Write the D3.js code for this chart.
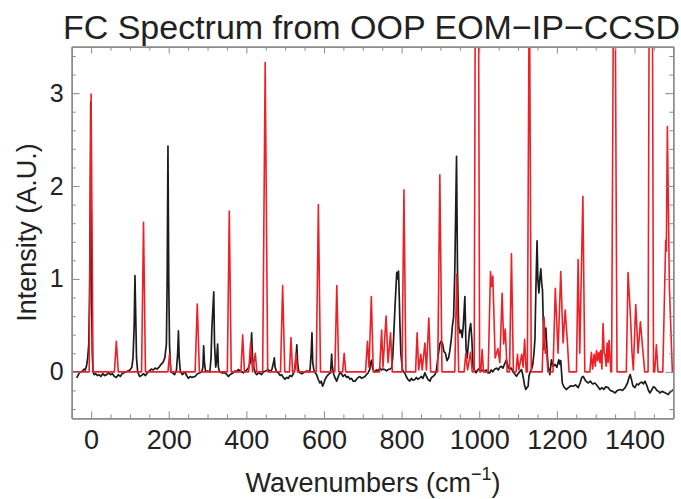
<!DOCTYPE html>
<html>
<head>
<meta charset="utf-8">
<script src="https://cdn.jsdelivr.net/npm/d3@7"></script>
<style>
    body { margin: 0; background: #ffffff; }
    svg { display: block; }
</style>
</head>
<body>
<script>
// -------------------------------------------------------------------------- //
//                                  DATA                                      //
// -------------------------------------------------------------------------- //

var titleText = "FC Spectrum from OOP EOM\u2212IP\u2212CCSD";
var xLabel = "Wavenumbers (cm";
var yLabel = "Intensity (A.U.)";

var xMajorTicks = [0, 200, 400, 600, 800, 1000, 1200, 1400];
var yMajorTicks = [0, 1, 2, 3];

// experimental spectrum (black), [wavenumber, intensity]
var exptSpectrum = [
    [-37,-0.065],[-33,-0.03],[-30,-0.01],[-26,0.0],[-22,0.01],[-18,0.03],[-15,0.02],[-12,0.06],
    [-9,0.14],[-6,0.3],[-4,0.8],[-2,2.0],[-1,2.9],[1,1.0],[3,0.2],[5,0.0],[8,-0.03],[12,-0.02],
    [16,-0.04],[20,-0.03],[25,-0.05],[30,-0.02],[35,-0.04],[40,-0.03],[45,-0.01],[50,-0.03],
    [55,-0.02],[60,-0.05],[65,-0.06],[70,-0.03],[75,-0.05],[80,-0.02],[85,-0.01],[90,0.0],
    [95,0.01],[100,0.02],[105,0.05],[108,0.15],[111,0.5],[113,1.035],[115,0.6],[117,0.15],
    [120,0.0],[125,-0.05],[130,-0.04],[135,-0.02],[140,-0.04],[145,-0.01],[150,0.01],[155,0.03],
    [160,0.02],[165,0.04],[170,0.03],[175,0.05],[180,0.08],[185,0.1],[190,0.15],[194,0.3],
    [196,1.0],[198,2.43],[200,1.0],[202,0.3],[205,0.0],[210,-0.01],[215,-0.03],[220,0.02],
    [223,0.2],[225,0.44],[227,0.15],[230,0.0],[235,-0.03],[242,0.0],[246,-0.04],[250.6,-0.07],
    [255,-0.05],[260,-0.06],[267.8,-0.05],[274,-0.02],[280.6,-0.01],[285,0.0],[288,0.05],
    [290,0.28],[292,0.1],[295,0.0],[300,0.01],[306,0.0],[309,0.15],[311,0.45],[314,0.7],
    [316,0.86],[318,0.3],[321,0.05],[323,0.1],[326,0.30],[328,0.05],[331,0.0],[337,-0.01],
    [345,-0.01],[350,-0.03],[353.6,-0.05],[358,-0.03],[362,-0.02],[366,-0.01],[371,0.01],
    [375,0.0],[379,0.025],[384,0.01],[388,0.0],[392,-0.01],[397,0.01],[401,0.02],[405,0.04],
    [410,0.1],[413.6,0.42],[416,0.15],[419.7,0.04],[423,-0.01],[426.6,-0.03],[432,-0.01],
    [439.5,-0.03],[444,0.0],[450,0.01],[456.6,0.025],[462,0.0],[466,0.03],[470,0.1],[472,0.15],
    [474,0.05],[478,0.0],[482,-0.01],[487,-0.04],[491,-0.03],[495,-0.06],[499.5,-0.08],
    [504,-0.06],[508,-0.07],[512,-0.04],[516.7,-0.05],[521,-0.02],[525,0.03],[528,0.15],
    [530,0.29],[532,0.1],[535,0.0],[538,-0.01],[543,-0.02],[547,-0.01],[551,0.0],[556,0.01],
    [560,0.0],[564,0.02],[567,0.2],[569,0.42],[571,0.1],[574,0.02],[577,-0.01],[581,-0.03],
    [585,-0.08],[589.6,-0.12],[593,-0.1],[596.5,-0.155],[600,-0.12],[603,-0.08],[606.8,-0.05],
    [611,-0.03],[614,-0.02],[617,-0.01],[618.5,0.1],[619.7,0.19],[621,0.08],[624,-0.01],
    [628,-0.06],[632.6,-0.1],[636,-0.06],[641,-0.01],[645,-0.02],[649,-0.05],[654,-0.03],
    [658,-0.06],[662,-0.05],[667,-0.08],[671,-0.07],[675,-0.1],[680,-0.1],[684,-0.08],
    [688,-0.06],[692.6,-0.05],[697,-0.07],[701,-0.06],[705.5,-0.05],[709,-0.03],[714,-0.01],
    [718,0.03],[720,0.1],[722.7,0.125],[725,0.04],[728,0.01],[731,0.0],[735,0.02],[739,0.01],
    [744,0.04],[748,0.02],[752,0.03],[757,0.025],[761,0.01],[765.5,0.025],[770,0.03],[774,0.04],
    [777,0.15],[780,0.42],[783,0.7],[786,0.95],[787.5,1.07],[789.5,1.0],[792,1.085],[794,0.8],
    [795.6,0.52],[798,0.2],[802,0.025],[805,0.0],[808,-0.01],[812,-0.05],[816,-0.08],[821,-0.1],
    [825,-0.07],[829,-0.09],[834,-0.083],[838,-0.06],[842,-0.08],[847,-0.065],[851,-0.05],
    [855,-0.07],[860,-0.01],[864,-0.05],[868,-0.08],[873,-0.1],[877,-0.06],[881,-0.05],
    [885.7,-0.03],[889,0.0],[892,0.1],[895,0.2],[898.5,0.3],[902,0.33],[905.5,0.3],[909,0.22],
    [913,0.2],[917,0.12],[921,0.15],[924,0.22],[928,0.35],[931,0.5],[934,0.59],[937,1.08],
    [941.5,2.32],[944,1.08],[947,0.49],[950,0.42],[953,0.45],[956,0.37],[959,0.5],[963,0.81],
    [966,0.25],[969,0.15],[972,0.3],[975,0.45],[978,0.52],[981,0.35],[984,0.05],[987,0.025],
    [991.7,-0.01],[996,0.02],[1001.5,0.04],[1006,0.01],[1010,0.02],[1014,0.0],[1018,0.02],
    [1022,-0.01],[1027,-0.01],[1031,0.02],[1035,0.0],[1040,0.03],[1044.6,0.04],[1049,0.02],
    [1053,0.05],[1057,0.06],[1061,0.04],[1065,0.08],[1070,0.13],[1074,0.06],[1078,0.03],
    [1083,0.04],[1087,0.0],[1091,-0.02],[1096,-0.047],[1100,-0.02],[1104,0.0],[1109,0.025],
    [1113,-0.05],[1117,-0.15],[1120,-0.19],[1123,-0.17],[1126,-0.155],[1128,-0.05],[1131,0.0],
    [1134.6,0.025],[1138,0.08],[1141,0.2],[1143.5,0.35],[1146,0.9],[1149,1.41],[1151,1.0],
    [1153.7,0.85],[1156,1.0],[1158.8,1.11],[1161,0.95],[1163,0.88],[1166.5,0.24],[1169,0.4],
    [1171.7,0.47],[1175,0.2],[1177.7,0.05],[1182,-0.03],[1186,0.13],[1190,0.06],[1195,0.08],
    [1200,0.05],[1205,0.13],[1208,0.08],[1210,0.12],[1214,-0.12],[1218,-0.16],[1224,-0.19],
    [1230,-0.17],[1236,-0.15],[1242,-0.155],[1248,-0.14],[1255,-0.17],[1260,-0.12],[1264,-0.06],
    [1268,-0.05],[1273,-0.09],[1277,-0.11],[1281,-0.12],[1286,-0.10],[1292,-0.13],[1298,-0.12],
    [1304,-0.15],[1311,-0.19],[1316,-0.17],[1321,-0.19],[1326,-0.16],[1332,-0.17],[1338,-0.2],
    [1344,-0.21],[1350,-0.227],[1356,-0.2],[1363,-0.19],[1369,-0.2],[1376,-0.17],[1382,-0.12],
    [1386,-0.06],[1389,-0.03],[1392,-0.08],[1396,-0.15],[1401,-0.17],[1406,-0.13],[1410,-0.14],
    [1414,-0.12],[1419,-0.11],[1423,-0.13],[1427,-0.10],[1432,-0.15],[1436,-0.2],[1440,-0.227],
    [1445,-0.19],[1449,-0.16],[1453,-0.17],[1458,-0.2],[1462,-0.21],[1466,-0.227],[1471,-0.21],
    [1476,-0.22],[1481,-0.23],[1487,-0.245],[1491,-0.22],[1495,-0.21],[1500,-0.19]
];

// computed FC spectrum (red), [wavenumber, intensity]
var calcSpectrum = [
    [-50,0],[-5,0],[0,2.99],[5,0],
    [60,0],[65,0.33],[70,0],
    [130,0],[135,1.61],[140,0],
    [198,0],[202,0.19],[206,0],
    [268,0],[273.5,0.73],[279,0],
    [351,0],[356,1.73],[361,0],
    [386,0],[390.5,0.4],[395,0],
    [406,0],[411,0.32],[416,0],[423,0.2],[427,0],
    [442,0],[448.5,3.33],[455,0],
    [488,0],[493.5,0.93],[499,0],
    [511,0],[515,0.37],[519,0],
    [524,0],[528,0.2],[532,0],
    [580,0],[585.5,1.8],[591,0],
    [628,0],[633,0.93],[638,0],
    [648,0],[652,0.2],[656,0],
    [707,0],[712,0.33],[716,0.05],[722,0.81],[727,0],
    [743,0],[748.5,0.45],[752,0.05],[760,0.6],[765,0.1],[771.5,0.42],[776,0],
    [801,0],[806,1.96],[811,0],
    [836,0],[840,0.42],[844,0.02],[849.5,0.19],[853,0.02],[860,0.31],[864,0.02],[870,0.58],[875,0],
    [893,0],[898.5,2.12],[904,0],
    [937,0],[942,1.05],[947,0],
    [961,0],[965.5,0.2],[970,0.02],[977.5,0.21],[982,0],
    [987,0],[994,10],[1001,0],
    [1004,0],[1007.5,0.24],[1011,0],
    [1023,0],[1029,1.08],[1032,0.92],[1035,1.03],[1041,0.15],[1048,0.25],[1053,0.1],
    [1059,0.845],[1063,0.3],[1067,0.46],[1072,0],
    [1078,0],[1083,1.27],[1088,0],
    [1095,0],[1098.5,0.19],[1102,0.02],[1109.5,0.19],[1113,0.05],[1117,0.35],[1121,0],
    [1124,0],[1129,4.5],[1134,0],
    [1162,0],[1167,0.59],[1170,0.2],[1173,0.25],[1177,0],
    [1190,0],[1196,0.9],[1203,0.2],[1210,1.08],[1216,0.31],[1221.5,0.665],[1227,0.33],[1231.5,0],
    [1250.5,0],[1254.7,1.21],[1259,0.2],[1267,1.89],[1272,0],
    [1285,0],[1289,0.21],[1292,0.03],[1296,0.19],[1299,0.06],[1302,0.23],[1305,0.12],[1308,0.21],
    [1311,0.1],[1313,0.23],[1316,0.03],[1319,0.52],[1322,0.2],[1324,0.19],[1327,0.06],
    [1329.5,0.31],[1332,0.1],[1334.5,0.34],[1339,0],
    [1341,0],[1348,6],[1355,0],
    [1379,0],[1383.4,1.07],[1389.5,0.61],[1393.7,0.2],[1397,0.02],[1403.2,0.725],[1409.2,0.2],
    [1415.2,0.54],[1420.3,0.29],[1426.4,0],
    [1435,0],[1442,10],[1449,0],
    [1452,0],[1456.4,0.29],[1460.6,0],
    [1473,0],[1480.4,1.42],[1482,1.3],[1484.7,2.64],[1490,0.9],[1497.6,0],[1500,0]
];

// -------------------------------------------------------------------------- //
//                                 LAYOUT                                     //
// -------------------------------------------------------------------------- //

var width = 681, height = 499;
var plotLeft = 71.7, plotRight = 673.3, plotTop = 46.7, plotBottom = 418.3;
var frameColor = "#8c8c8c";
var textColor = "#222222";
var fontFamily = "'Liberation Sans', Arial, Helvetica, sans-serif";

var svg = d3.select("body")
    .append("svg")
    .attr("width", width)
    .attr("height", height);

var x = d3.scaleLinear().domain([-50, 1500]).range([plotLeft, plotRight]);
var y = d3.scaleLinear().domain([-0.5, 3.5]).range([plotBottom, plotTop]);

var xMinorTicks = d3.range(-50, 1501, 50).filter(function(v) { return v % 200 !== 0; });
var yMinorTicks = d3.range(-0.4, 3.5, 0.2).map(function(v) { return +v.toFixed(1); })
    .filter(function(v) { return Math.abs(v - Math.round(v)) > 1e-6; });

svg.append("defs")
    .append("clipPath")
    .attr("id", "plotClip")
    .append("rect")
    .attr("x", plotLeft)
    .attr("y", plotTop)
    .attr("width", plotRight - plotLeft)
    .attr("height", plotBottom - plotTop);

// -------------------------------------------------------------------------- //
//                                 SPECTRA                                    //
// -------------------------------------------------------------------------- //

var line = d3.line()
    .x(function(d) { return x(d[0]); })
    .y(function(d) { return y(d[1]); });

var plot = svg.append("g").attr("clip-path", "url(#plotClip)");

plot.append("path")
    .datum(exptSpectrum)
    .attr("d", line)
    .attr("fill", "none")
    .attr("stroke", "#1c1c1c")
    .attr("stroke-width", 1.7)
    .attr("stroke-linejoin", "round");

plot.append("path")
    .datum(calcSpectrum)
    .attr("d", line)
    .attr("fill", "none")
    .attr("stroke", "#ee1f26")
    .attr("stroke-width", 1.6)
    .attr("stroke-linejoin", "round");

// -------------------------------------------------------------------------- //
//                                  AXES                                      //
// -------------------------------------------------------------------------- //

function styleAxis(g)
{
    g.select(".domain").attr("stroke", frameColor).attr("stroke-width", 1.4);
    g.selectAll(".tick line").attr("stroke", frameColor).attr("stroke-width", 1);
    g.selectAll(".tick text")
        .attr("fill", textColor)
        .style("font-family", fontFamily);
}

// bottom
svg.append("g")
    .attr("transform", "translate(0," + plotBottom + ")")
    .call(d3.axisBottom(x).tickValues(xMinorTicks).tickSize(-4).tickSizeOuter(0).tickFormat(""))
    .call(styleAxis);
svg.append("g")
    .attr("transform", "translate(0," + plotBottom + ")")
    .call(d3.axisBottom(x).tickValues(xMajorTicks).tickSize(-7).tickSizeOuter(0).tickPadding(12)
        .tickFormat(d3.format("d")))
    .call(styleAxis)
    .selectAll(".tick text").style("font-size", "27px");

// top
svg.append("g")
    .attr("transform", "translate(0," + plotTop + ")")
    .call(d3.axisTop(x).tickValues(xMinorTicks).tickSize(-4).tickSizeOuter(0).tickFormat(""))
    .call(styleAxis);
svg.append("g")
    .attr("transform", "translate(0," + plotTop + ")")
    .call(d3.axisTop(x).tickValues(xMajorTicks).tickSize(-7).tickSizeOuter(0).tickFormat(""))
    .call(styleAxis);

// left
svg.append("g")
    .attr("transform", "translate(" + plotLeft + ",0)")
    .call(d3.axisLeft(y).tickValues(yMinorTicks).tickSize(-4).tickSizeOuter(0).tickFormat(""))
    .call(styleAxis);
svg.append("g")
    .attr("transform", "translate(" + plotLeft + ",0)")
    .call(d3.axisLeft(y).tickValues(yMajorTicks).tickSize(-8).tickSizeOuter(0).tickPadding(8)
        .tickFormat(d3.format("d")))
    .call(styleAxis)
    .selectAll(".tick text").style("font-size", "25px");

// right
svg.append("g")
    .attr("transform", "translate(" + plotRight + ",0)")
    .call(d3.axisRight(y).tickValues(yMinorTicks).tickSize(-4).tickSizeOuter(0).tickFormat(""))
    .call(styleAxis);
svg.append("g")
    .attr("transform", "translate(" + plotRight + ",0)")
    .call(d3.axisRight(y).tickValues(yMajorTicks).tickSize(-8).tickSizeOuter(0).tickFormat(""))
    .call(styleAxis);

// -------------------------------------------------------------------------- //
//                                  TEXT                                      //
// -------------------------------------------------------------------------- //

svg.append("text")
    .text(titleText)
    .attr("x", 371.5)
    .attr("y", 39)
    .attr("text-anchor", "middle")
    .attr("fill", textColor)
    .style("font-family", fontFamily)
    .style("font-size", "34px");

var xl = svg.append("text")
    .attr("x", 373)
    .attr("y", 492)
    .attr("text-anchor", "middle")
    .attr("fill", textColor)
    .style("font-family", fontFamily)
    .style("font-size", "27px");
xl.append("tspan").text(xLabel);
xl.append("tspan").text("\u22121").attr("dy", -12).style("font-size", "18px");
xl.append("tspan").text(")").attr("dy", 12);

svg.append("text")
    .text(yLabel)
    .attr("transform", "translate(36," + ((plotTop + plotBottom) / 2) + ") rotate(-90)")
    .attr("text-anchor", "middle")
    .attr("fill", textColor)
    .style("font-family", fontFamily)
    .style("font-size", "27px");
</script>
</body>
</html>
